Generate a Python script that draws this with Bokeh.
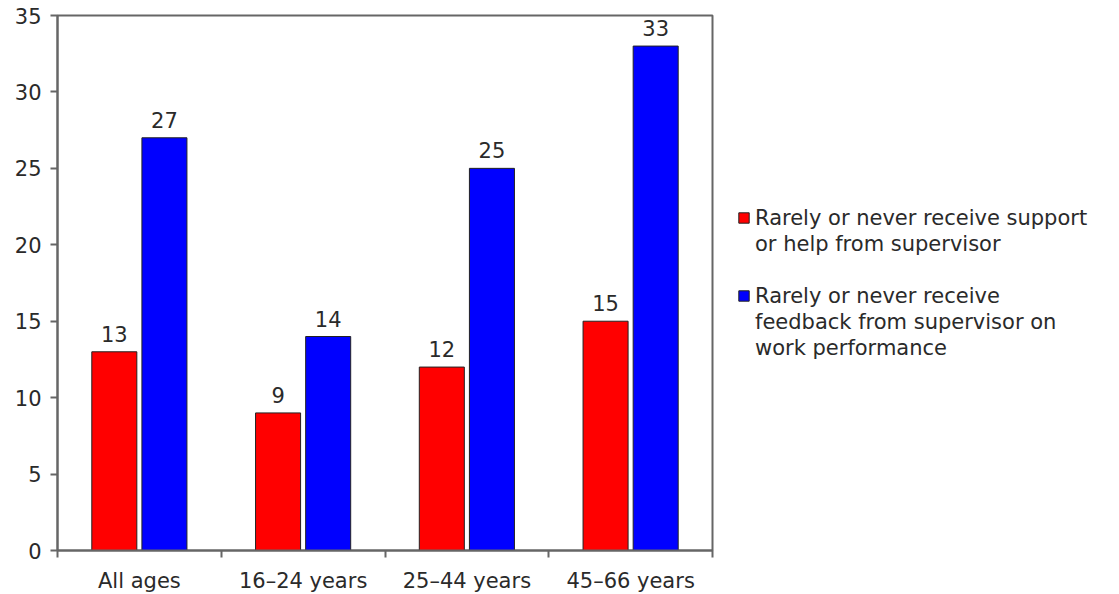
from bokeh.plotting import figure
from bokeh.models import Range1d, FixedTicker, Legend, LegendItem
from bokeh.core.properties import value
from bokeh.embed import file_html
from bokeh.resources import INLINE
import numpy as np

# Age groups and survey results (per cent)
categories = ["All ages", "16\u201324 years", "25\u201344 years", "45\u201366 years"]
support = [13, 9, 12, 15]
feedback = [27, 14, 25, 33]
support_label = ["Rarely or never receive support", "or help from supervisor"]
feedback_label = ["Rarely or never receive", "feedback from supervisor on", "work performance"]
y_ticks = [0, 5, 10, 15, 20, 25, 30, 35]

FONT = "DejaVu Sans"
SIZE = "21px"
TEXT = "#2a2a2a"
AXIS = "#666666"

centers = np.arange(len(categories)) + 0.5
bar_w = 0.275
shift = 0.153

p = figure(
    frame_width=655, frame_height=535,
    min_border_left=57, min_border_right=407,
    min_border_top=15, min_border_bottom=44,
    x_range=Range1d(0, len(categories)), y_range=Range1d(0, 35),
    output_backend="svg", toolbar_location=None,
    background_fill_color="white", border_fill_color="white",
)
p.grid.visible = False
p.outline_line_color = AXIS
p.outline_line_width = 2

r1 = p.vbar(x=centers - shift, top=support, width=bar_w,
            fill_color="#ff0000", line_color="#222222", line_width=1)
r2 = p.vbar(x=centers + shift, top=feedback, width=bar_w,
            fill_color="#0000ff", line_color="#222222", line_width=1)

for xs, vals in ((centers - shift, support), (centers + shift, feedback)):
    p.text(x=xs, y=vals, text=[str(v) for v in vals], y_offset=-10,
           text_align="center", text_baseline="bottom",
           text_font=value(FONT), text_font_size=SIZE, text_color=TEXT)

# y axis
p.yaxis.ticker = FixedTicker(ticks=y_ticks)
p.yaxis.axis_line_color = AXIS
p.yaxis.axis_line_width = 2
p.yaxis.major_tick_line_color = AXIS
p.yaxis.major_tick_line_width = 2
p.yaxis.major_tick_in = 0
p.yaxis.major_tick_out = 7
p.yaxis.minor_tick_line_color = None
p.yaxis.major_label_standoff = 9
p.yaxis.major_label_text_font = FONT
p.yaxis.major_label_text_font_size = SIZE
p.yaxis.major_label_text_color = TEXT

# x axis: labels at group centres, ticks at group boundaries
p.xaxis.ticker = FixedTicker(ticks=list(centers),
                             minor_ticks=list(range(len(categories) + 1)))
p.xaxis.major_label_overrides = {float(c): lab for c, lab in zip(centers, categories)}
p.xaxis.axis_line_color = AXIS
p.xaxis.axis_line_width = 2
p.xaxis.major_tick_line_color = None
p.xaxis.major_tick_out = 0
p.xaxis.major_tick_in = 0
p.xaxis.minor_tick_line_color = AXIS
p.xaxis.minor_tick_line_width = 2
p.xaxis.minor_tick_in = 0
p.xaxis.minor_tick_out = 7
p.xaxis.major_label_standoff = 11
p.xaxis.major_label_text_font = FONT
p.xaxis.major_label_text_font_size = SIZE
p.xaxis.major_label_text_color = TEXT

# legend: one row per text line, swatch only on the first line of each entry
items = [LegendItem(label=support_label[0], renderers=[r1])]
items += [LegendItem(label=t, renderers=[]) for t in support_label[1:]]
items += [LegendItem(label=" ", renderers=[])]
items += [LegendItem(label=feedback_label[0], renderers=[r2])]
items += [LegendItem(label=t, renderers=[]) for t in feedback_label[1:]]

legend = Legend(
    items=items, location="center_left", orientation="vertical",
    border_line_color=None, background_fill_alpha=0,
    glyph_width=13, glyph_height=13, label_standoff=5,
    spacing=2, padding=0, margin=25,
    label_text_font=FONT, label_text_font_size=SIZE,
    label_text_color=TEXT, label_height=24,
)
p.add_layout(legend, "right")

open("out.html", "w").write(file_html(p, INLINE))
